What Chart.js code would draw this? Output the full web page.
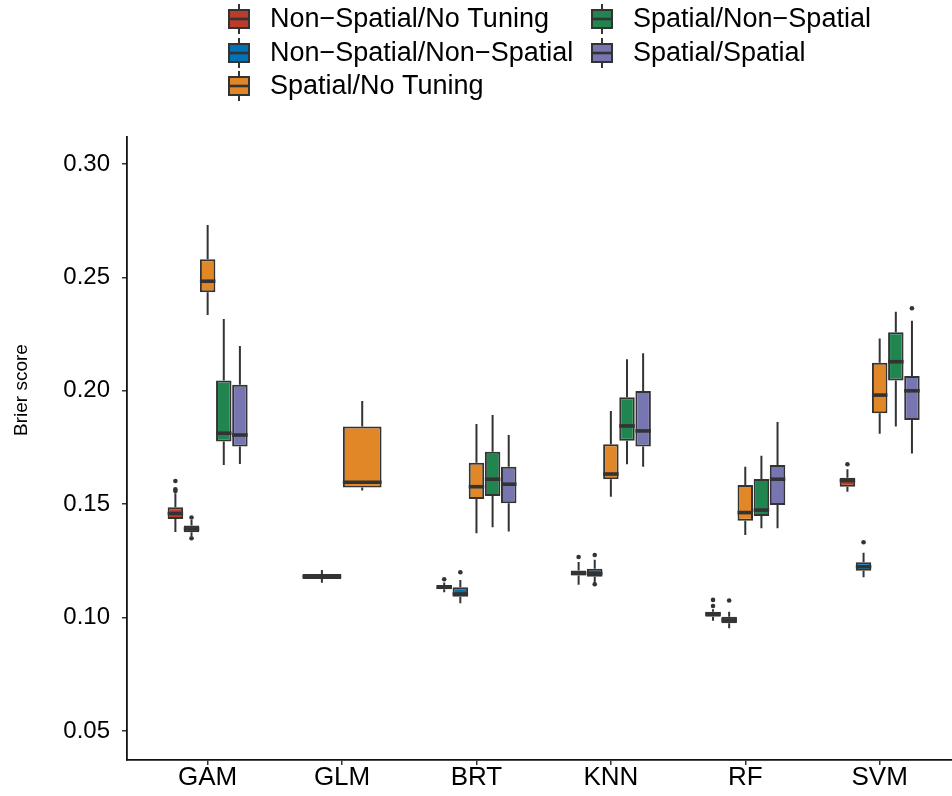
<!DOCTYPE html>
<html>
<head>
<meta charset="utf-8">
<title>Brier score by model</title>
<script src="https://cdn.jsdelivr.net/npm/chart.js@4.4.1/dist/chart.umd.min.js"></script>
<style>
    html, body { margin: 0; padding: 0; background: #ffffff; }
    #wrap { width: 952px; height: 796px; }
</style>
</head>
<body>
<div id="wrap"><canvas id="brierChart" width="952" height="796"></canvas></div>
<script>
const models = ['GAM', 'GLM', 'BRT', 'KNN', 'RF', 'SVM'];
const seriesNames = [
    'Non\u2212Spatial/No Tuning',
    'Non\u2212Spatial/Non\u2212Spatial',
    'Spatial/No Tuning',
    'Spatial/Non\u2212Spatial',
    'Spatial/Spatial'
];
const seriesColors = ['#BC3C29', '#0072B5', '#E18727', '#20854E', '#7876B1'];
const yTicks = [0.05, 0.10, 0.15, 0.20, 0.25, 0.30];

// [lower whisker, Q1, median, Q3, upper whisker] per model, null = not run
const nonSpatialNoTuning = [
    [0.1377, 0.1435, 0.1459, 0.1486, 0.1548],
    [0.1154, 0.1170, 0.1181, 0.1192, 0.1210],
    [0.1112, 0.1125, 0.1134, 0.1144, 0.1155],
    [0.1145, 0.1185, 0.1195, 0.1208, 0.1245],
    [0.0986, 0.1004, 0.1016, 0.1026, 0.1037],
    [0.1555, 0.1577, 0.1604, 0.1617, 0.1654]
];
const nonSpatialNonSpatial = [
    [0.1360, 0.1376, 0.1391, 0.1406, 0.1430],
    null,
    [0.1063, 0.1092, 0.1104, 0.1134, 0.1166],
    [0.1150, 0.1180, 0.1195, 0.1215, 0.1255],
    [0.0953, 0.0975, 0.0989, 0.1004, 0.1026],
    [0.1178, 0.1207, 0.1224, 0.1244, 0.1286]
];
const spatialNoTuning = [
    [0.2334, 0.2434, 0.2483, 0.2580, 0.2731],
    [0.1560, 0.1573, 0.1597, 0.1842, 0.1955],
    [0.1372, 0.1523, 0.1577, 0.1683, 0.1854],
    [0.1533, 0.1610, 0.1633, 0.1764, 0.1911],
    [0.1364, 0.1427, 0.1463, 0.1585, 0.1665],
    [0.1810, 0.1901, 0.1981, 0.2124, 0.2231]
];
const spatialNonSpatial = [
    [0.1673, 0.1776, 0.1813, 0.2045, 0.2317],
    null,
    [0.1398, 0.1536, 0.1610, 0.1731, 0.1893],
    [0.1676, 0.1780, 0.1845, 0.1971, 0.2139],
    [0.1394, 0.1448, 0.1474, 0.1611, 0.1713],
    [0.1842, 0.2045, 0.2128, 0.2258, 0.2349]
];
const spatialSpatial = [
    [0.1677, 0.1754, 0.1805, 0.2027, 0.2198],
    null,
    [0.1379, 0.1504, 0.1588, 0.1665, 0.1805],
    [0.1665, 0.1754, 0.1823, 0.1999, 0.2165],
    [0.1394, 0.1496, 0.1610, 0.1673, 0.1862],
    [0.1724, 0.1871, 0.2000, 0.2065, 0.2309]
];

// outlying points per model
const nonSpatialNoTuningOut = [[0.1602, 0.1566, 0.1558], [], [0.1169], [0.1267], [0.1078, 0.1051], [0.1676]];
const nonSpatialNonSpatialOut = [[0.1441, 0.1350], [], [0.1200], [0.1276, 0.1147], [0.1075], [0.1332]];
const spatialNoTuningOut = [[], [], [], [], [], []];
const spatialNonSpatialOut = [[], [], [], [], [], []];
const spatialSpatialOut = [[], [], [], [], [], [0.2364]];

const boxSeries = [nonSpatialNoTuning, nonSpatialNonSpatial, spatialNoTuning, spatialNonSpatial, spatialSpatial];
const outlierSeries = [nonSpatialNoTuningOut, nonSpatialNonSpatialOut, spatialNoTuningOut, spatialNonSpatialOut, spatialSpatialOut];

const FONT = '"Liberation Sans", Arial, Helvetica, sans-serif';
const INK = '#333333';

// whiskers, medians and outliers on top of the floating bars (the boxes)
const boxplotParts = {
    id: 'boxplotParts',
    afterDatasetsDraw(chart) {
        const ctx = chart.ctx;
        const y = chart.scales.y;

        ctx.save();
        ctx.strokeStyle = INK;
        ctx.fillStyle = INK;
        boxSeries.forEach(function (series, s) {
            const meta = chart.getDatasetMeta(s);
            series.forEach(function (stats, i) {
                if (!stats) return;
                const bar = meta.data[i];
                const x = bar.x;
                const half = bar.width / 2;

                ctx.lineWidth = 2;
                ctx.beginPath();
                ctx.moveTo(x, y.getPixelForValue(stats[3]));
                ctx.lineTo(x, y.getPixelForValue(stats[4]));
                ctx.moveTo(x, y.getPixelForValue(stats[1]));
                ctx.lineTo(x, y.getPixelForValue(stats[0]));
                ctx.stroke();

                ctx.lineWidth = 3.6;
                ctx.beginPath();
                ctx.moveTo(x - half, y.getPixelForValue(stats[2]));
                ctx.lineTo(x + half, y.getPixelForValue(stats[2]));
                ctx.stroke();

                outlierSeries[s][i].forEach(function (v) {
                    ctx.beginPath();
                    ctx.arc(x, y.getPixelForValue(v), 2.3, 0, Math.PI * 2);
                    ctx.fill();
                });
            });
        });
        ctx.restore();
    }
};

// two-column legend above the panel plus the y title, ggplot style
const legendAndTitle = {
    id: 'legendAndTitle',
    afterDraw(chart) {
        const ctx = chart.ctx;
        const colX = [229, 592];
        const rowY = [19, 53, 86];

        ctx.save();
        ctx.font = '27px ' + FONT;
        ctx.textBaseline = 'middle';
        ctx.textAlign = 'left';

        seriesNames.forEach(function (name, s) {
            const gx = colX[Math.floor(s / 3)];
            const gy = rowY[s % 3];
            const w = 20;
            const h = 18;

            ctx.strokeStyle = INK;
            ctx.lineWidth = 2;
            ctx.beginPath();
            ctx.moveTo(gx + w / 2, gy - h / 2 - 6);
            ctx.lineTo(gx + w / 2, gy + h / 2 + 6);
            ctx.stroke();

            ctx.fillStyle = seriesColors[s];
            ctx.fillRect(gx, gy - h / 2, w, h);
            ctx.strokeRect(gx, gy - h / 2, w, h);

            ctx.lineWidth = 2.6;
            ctx.beginPath();
            ctx.moveTo(gx, gy);
            ctx.lineTo(gx + w, gy);
            ctx.stroke();

            ctx.fillStyle = '#000000';
            ctx.fillText(name, gx + w + 21, gy + 1);
        });

        ctx.translate(22, 390);
        ctx.rotate(-Math.PI / 2);
        ctx.textAlign = 'center';
        ctx.font = '19px ' + FONT;
        ctx.fillText('Brier score', 0, 0);
        ctx.restore();
    }
};

function buildDatasets() {
    return seriesNames.map(function (name, s) {
        return {
            label: name,
            data: models.map(function (m, i) {
                const stats = boxSeries[s][i];
                return { x: i, y: stats ? [stats[1], stats[3]] : null };
            }),
            backgroundColor: seriesColors[s],
            borderColor: INK,
            borderWidth: 2,
            borderSkipped: false,
            skipNull: true,
            categoryPercentage: 0.6,
            barPercentage: 0.96
        };
    });
}

function createBrierChart() {
    const canvas = document.getElementById('brierChart');

    window.brierChart = new Chart(canvas, {
        type: 'bar',
        data: { datasets: buildDatasets() },
        options: {
            responsive: false,
            animation: false,
            devicePixelRatio: 1,
            layout: { padding: { top: 137, left: 0, right: 0, bottom: 0 } },
            plugins: {
                legend: { display: false },
                tooltip: { enabled: false }
            },
            scales: {
                x: {
                    type: 'linear',
                    min: -0.6,
                    max: 5.538,
                    offset: false,
                    afterBuildTicks: function (axis) {
                        axis.ticks = models.map(function (m, i) { return { value: i }; });
                    },
                    afterFit: function (axis) { axis.height = 36; },
                    ticks: {
                        callback: function (value) { return models[value]; },
                        font: { family: FONT, size: 26, lineHeight: 1 },
                        color: '#000000',
                        padding: 0,
                        maxRotation: 0,
                        autoSkip: false
                    },
                    grid: {
                        offset: false,
                        drawOnChartArea: false,
                        drawTicks: true,
                        tickLength: 5,
                        tickColor: INK,
                        lineWidth: 1.5
                    },
                    border: { display: true, color: '#111111', width: 1.8 }
                },
                y: {
                    type: 'linear',
                    min: 0.0372,
                    max: 0.3119,
                    beginAtZero: false,
                    afterBuildTicks: function (axis) {
                        axis.ticks = yTicks.map(function (v) { return { value: v }; });
                    },
                    afterFit: function (axis) { axis.width = 127; },
                    ticks: {
                        callback: function (value) { return Number(value).toFixed(2); },
                        font: { family: FONT, size: 24 },
                        color: '#000000',
                        padding: 12
                    },
                    grid: {
                        drawOnChartArea: false,
                        drawTicks: true,
                        tickLength: 5,
                        tickColor: INK,
                        lineWidth: 1.5
                    },
                    border: { display: true, color: '#111111', width: 1.8 }
                }
            }
        },
        plugins: [boxplotParts, legendAndTitle]
    });
}

document.addEventListener('DOMContentLoaded', createBrierChart);
</script>
</body>
</html>
